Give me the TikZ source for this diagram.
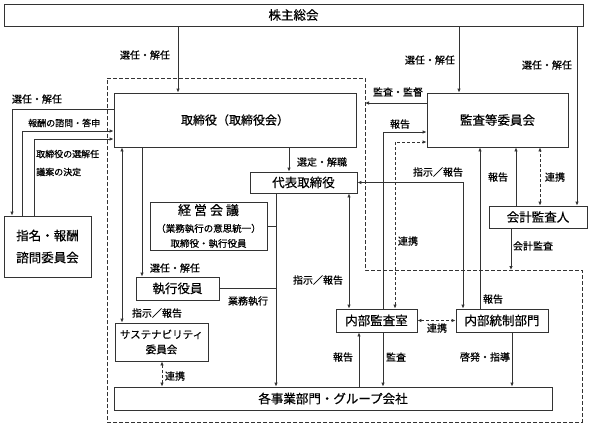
\documentclass[tikz,border=0pt]{standalone}
\usepackage{fontspec}
\setmainfont{Noto Sans CJK JP}[FakeBold=0.5]
\usetikzlibrary{arrows.meta}

\begin{document}
\begin{tikzpicture}[x=1pt, y=-1pt, >={Latex[length=4pt,width=3.5pt]},
        box/.style={draw=black!80, line width=0.8pt, rectangle, inner sep=0pt, text=black, font=\fontsize{12.5}{15}\selectfont},
        lbl/.style={inner sep=0pt, text=black, font=\fontsize{10}{12}\selectfont},
        sml/.style={inner sep=0pt, text=black, font=\fontsize{9}{11}\selectfont},
        line/.style={draw=black!80, line width=0.8pt},
        link/.style={line, dash pattern=on 3pt off 2pt},
        area/.style={draw=black!80, line width=0.7pt, dash pattern=on 4pt off 2pt}]

        \useasboundingbox (0,0) rectangle (590,426);

        \draw (107,78) -- (365,78) -- (365,270) -- (582,270) -- (582,422) -- (107,422) -- cycle [area];

        \draw (293.5,15) node[box, minimum width=579, minimum height=22] (soukai) {株主総会};
        \draw (235,120) node[box, minimum width=242, minimum height=54, font=\fontsize{12}{15}\selectfont] (tori) {取締役（取締役会）};
        \draw (497.5,120) node[box, minimum width=141, minimum height=54] (kansa) {監査等委員会};
        \draw (303.5,182.5) node[box, minimum width=107, minimum height=21] (daihyo) {代表取締役};
        \draw (208.5,226) node[box, minimum width=117, minimum height=48, align=center] (keiei) {{\fontsize{13}{15}\selectfont 経\hspace{3pt}営\hspace{3pt}会\hspace{3pt}議}\\[2pt]{\fontsize{9.5}{12}\selectfont （業務執行の意思統一）}\\{\fontsize{9.5}{12}\selectfont 取締役・執行役員}};
        \draw (177.5,288.5) node[box, minimum width=83, minimum height=23] (shikko) {執行役員};
        \draw (161.5,342) node[box, minimum width=93, minimum height=38, align=center, font=\fontsize{10.5}{15}\selectfont] (sust) {サステナビリティ\\委員会};
        \draw (333,398.5) node[box, minimum width=438, minimum height=23] (jigyo) {各事業部門・グループ会社};
        \draw (376.5,320.5) node[box, minimum width=81, minimum height=23] (naibu) {内部監査室};
        \draw (502,320.5) node[box, minimum width=92, minimum height=23] (tosei) {内部統制部門};
        \draw (538,217) node[box, minimum width=98, minimum height=22] (kaikei) {会計監査人};
        \draw (47.5,246.5) node[box, minimum width=87, minimum height=61, align=center] (shimei) {指名・報酬\\[7pt]諮問委員会};

        \coordinate (xa) at (178,0);
        \coordinate (xb) at (459,0);
        \coordinate (xc) at (577,0);
        \coordinate (xd) at (289,0);
        \coordinate (xe) at (276,0);
        \coordinate (xf) at (349,0);
        \coordinate (xg) at (142,0);
        \coordinate (xh) at (122,0);
        \coordinate (xi) at (162,0);
        \coordinate (xj) at (359,0);
        \coordinate (xk) at (383,0);
        \coordinate (xl) at (395,0);
        \coordinate (xm) at (463,0);
        \coordinate (xn) at (480,0);
        \coordinate (xo) at (512,0);
        \coordinate (xp) at (516,0);
        \coordinate (xq) at (540,0);
        \coordinate (xr) at (511,0);
        \coordinate (xs) at (12,0);
        \coordinate (xt) at (22,0);
        \coordinate (xu) at (34,0);
        \coordinate (ya) at (0,103);
        \coordinate (yb) at (0,132);
        \coordinate (yc) at (0,142);
        \coordinate (y1) at (0,109);
        \coordinate (y2) at (0,131);
        \coordinate (y3) at (0,139);
        \coordinate (kantoku) at (365,103);
        \coordinate (kaikeikansa) at (511,270);

        \draw [line, ->] (soukai.south -| xa) -- (tori.north -| xa);
        \draw [line, ->] (soukai.south -| xb) -- (kansa.north -| xb);
        \draw [line, ->] (soukai.south -| xc) -- (kaikei.north -| xc);
        \draw [line, ->] (tori.south -| xd) -- (daihyo.north -| xd);
        \draw [line, ->] (daihyo.south -| xe) -- (jigyo.north -| xe);
        \draw [line] (keiei.east) -- (keiei.east -| xe);
        \draw [line] (shikko.east) -- (shikko.east -| xe);
        \draw [line, <->] (daihyo.south -| xf) -- (naibu.north -| xf);
        \draw [line, ->] (tori.south -| xg) -- (shikko.north -| xg);
        \draw [line, <->] (tori.south -| xh) -- (sust.north -| xh);
        \draw [link, <->] (sust.south -| xi) -- (jigyo.north -| xi);
        \draw [line, ->] (jigyo.north -| xj) -- (naibu.south -| xj);
        \draw [line, ->] (naibu.south -| xk) -- (jigyo.north -| xk);
        \draw [line, ->] (naibu.north -| xk) |- (kansa.west |- yb);
        \draw [link, <->] (naibu.north -| xl) |- (kansa.west |- yc);
        \draw [line, ->] (kansa.west |- ya) -- (kantoku);
        \draw [line, <->] (daihyo.east) -| (tosei.north -| xm);
        \draw [line, ->] (tosei.north -| xn) -- (kansa.south -| xn);
        \draw [line, ->] (tosei.south -| xo) -- (jigyo.north -| xo);
        \draw [link, <->] (naibu.east) -- (tosei.west);
        \draw [line, ->] (kaikei.north -| xp) -- (kansa.south -| xp);
        \draw [link, <->] (kaikei.north -| xq) -- (kansa.south -| xq);
        \draw [line, ->] (kaikei.south -| xr) -- (kaikeikansa);
        \draw [line, ->] (tori.west |- y1) -| (shimei.north -| xs);
        \draw [line, ->] (shimei.north -| xt) |- (tori.west |- y2);
        \draw [line, ->] (shimei.north -| xu) |- (tori.west |- y3);

        \node[lbl] (l_sen1) at (145,55) {選任・解任};
        \node[lbl] (l_sen2) at (430,60) {選任・解任};
        \node[lbl] (l_sen3) at (547,65) {選任・解任};
        \node[lbl] (l_kantoku) at (398,92) {監査・監督};
        \node[lbl] (l_hou1) at (400,124) {報告};
        \node[lbl] (l_sentei) at (322,162) {選定・解職};
        \node[lbl] (l_shiji1) at (438,172) {指示／報告};
        \node[lbl] (l_hou2) at (498,177) {報告};
        \node[lbl] (l_ren1) at (555,177) {連携};
        \node[lbl] (l_kaikei) at (533,246) {会計監査};
        \node[lbl] (l_ren2) at (408,241) {連携};
        \node[lbl] (l_shiji2) at (318,280) {指示／報告};
        \node[lbl] (l_hou3) at (493,299) {報告};
        \node[lbl] (l_ren3) at (437,328) {連携};
        \node[lbl] (l_hou4) at (343,357) {報告};
        \node[lbl] (l_kansa) at (396,357) {監査};
        \node[lbl] (l_keihatsu) at (485,357) {啓発・指導};
        \node[lbl] (l_sen4) at (175,268) {選任・解任};
        \node[lbl] (l_gyomu) at (248,301) {業務執行};
        \node[lbl] (l_shiji3) at (157,313) {指示／報告};
        \node[lbl] (l_ren4) at (175,376) {連携};
        \node[lbl] (l_sen5) at (37,99) {選任・解任};
        \node[sml, anchor=west] (l_houshu) at (28,123) {報酬の諮問・答申};
        \node[sml, anchor=west] (l_senkai) at (36,154) {取締役の選解任};
        \node[sml, anchor=west] (l_gian) at (36,172) {議案の決定};
\end{tikzpicture}
\end{document}
